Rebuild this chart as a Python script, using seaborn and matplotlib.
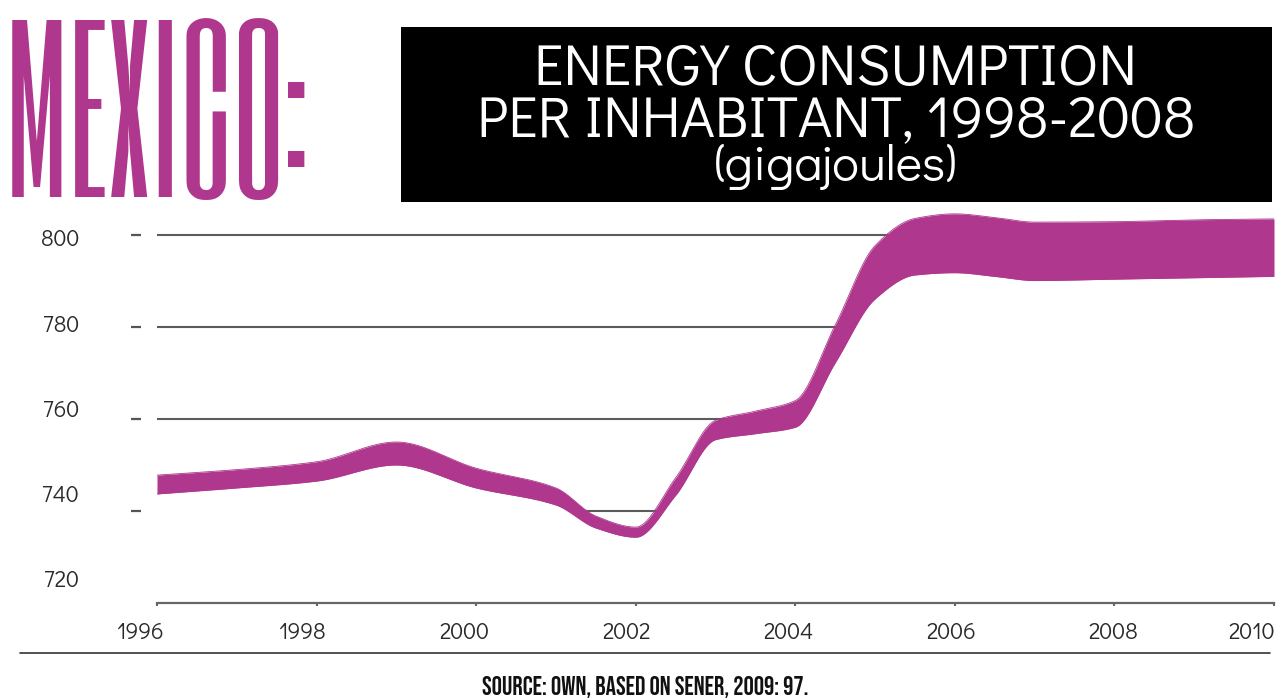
import numpy as np
import pandas as pd
import matplotlib
matplotlib.use("Agg")
import matplotlib.pyplot as plt
import seaborn as sns
from matplotlib.lines import Line2D
from matplotlib.patches import Rectangle

# Energy consumption per inhabitant (gigajoules): lower and upper edge of the band
years = [1996, 1997, 1998, 1999, 2000, 2001, 2001.5, 2002, 2002.5, 2003, 2003.5,
         2004, 2004.5, 2005, 2005.5, 2006, 2006.5, 2007, 2008, 2009, 2010]
upper = [747.8, 749.0, 750.7, 755.0, 749.3, 745.0, 738.9, 736.5, 747.2, 759.7, 761.7,
         764.0, 780.4, 797.7, 803.6, 804.6, 803.8, 802.8, 802.9, 803.3, 803.5]
lower = [743.7, 745.0, 746.5, 750.0, 745.0, 741.3, 736.3, 734.3, 743.4, 755.5, 756.8,
         758.2, 772.2, 786.1, 791.3, 791.8, 791.0, 790.1, 790.4, 790.7, 791.0]

grid_values = [740, 760, 780, 800]
ytick_values = [720, 740, 760, 780, 800]
xtick_years = [1996, 1998, 2000, 2002, 2004, 2006, 2008, 2010]

MAGENTA = "#AF378E"


def pchip(x, y, xs):
    """Monotone cubic Hermite curve through (x, y), evaluated at xs."""
    x = np.asarray(x, float)
    y = np.asarray(y, float)
    h = np.diff(x)
    d = np.diff(y) / h
    n = len(x)
    m = np.zeros(n)
    for k in range(1, n - 1):
        if d[k - 1] * d[k] <= 0:
            m[k] = 0.0
        else:
            w1 = 2 * h[k] + h[k - 1]
            w2 = h[k] + 2 * h[k - 1]
            m[k] = (w1 + w2) / (w1 / d[k - 1] + w2 / d[k])
    m[0] = d[0]
    m[-1] = d[-1]
    idx = np.clip(np.searchsorted(x, xs) - 1, 0, n - 2)
    t = (xs - x[idx]) / h[idx]
    h00 = 2 * t**3 - 3 * t**2 + 1
    h10 = t**3 - 2 * t**2 + t
    h01 = -2 * t**3 + 3 * t**2
    h11 = t**3 - t**2
    return (h00 * y[idx] + h10 * h[idx] * m[idx]
            + h01 * y[idx + 1] + h11 * h[idx] * m[idx + 1])


sns.set_theme(style="white")
plt.rcParams["font.family"] = ["Didact Gothic", "DejaVu Sans"]

W, H = 1276, 699
fig = plt.figure(figsize=(W / 100, H / 100), dpi=100)
rect = [157 / W, 96 / H, 1117 / W, 391 / H]
ax = fig.add_axes(rect)

xs = np.linspace(1996, 2010, 1400)
band = pd.DataFrame({"year": xs,
                     "upper": pchip(years, upper, xs),
                     "lower": pchip(years, lower, xs)})

# horizontal guides only where they run above the band's lower edge
for v in grid_values:
    guide = np.where(v > band["lower"], v, np.nan)
    ax.plot(band["year"], guide, color="#5c5c5c", lw=1.5, zorder=1,
            solid_capstyle="butt")

ax.fill_between(band["year"], band["lower"], band["upper"], color=MAGENTA, lw=0, zorder=3)
sns.lineplot(data=band, x="year", y="upper", ax=ax, color=MAGENTA, lw=0.6, zorder=3)
sns.lineplot(data=band, x="year", y="lower", ax=ax, color=MAGENTA, lw=0.6, zorder=3)
ax.set_xlabel("")
ax.set_ylabel("")

sns.despine(ax=ax, top=True, right=True, left=False, bottom=False)
ax.spines["left"].set_position(("outward", 11.5))
ax.spines["left"].set_visible(False)
ax.spines["bottom"].set_color("#666666")
ax.spines["bottom"].set_linewidth(1.6)
ax.spines["bottom"].set_zorder(4)

ax.set_yticks(grid_values)
ax.set_xticks(xtick_years)
ax.set_xlim(1996, 2010)
ax.set_ylim(720, 805)
ax.tick_params(axis="y", left=True, length=7.2, width=1.6, color="#555555",
               direction="out", labelleft=False)
ax.tick_params(axis="x", bottom=True, length=2.5, width=1.5, color="#666666",
               direction="out", labelbottom=False)
ax.grid(False)

# tick labels sit on their own slightly stretched scale
lab = fig.add_axes([100 / W, 96 / H, 1176 / W, 391 / H])
lab.patch.set_alpha(0)
for s in lab.spines.values():
    s.set_visible(False)
lab.grid(False)
lab.set_yticks(ytick_values)
lab.set_yticklabels([str(v) for v in ytick_values])
lab.set_xticks(xtick_years)
lab.set_xticklabels([str(v) for v in xtick_years])
lab.set_ylim(714.37, 806.1)
lab.set_xlim(1995.507, 2010.01)
lab.tick_params(axis="y", left=True, length=0, pad=15, labelsize=16.5,
                labelcolor="#2a2a2a")
lab.tick_params(axis="x", bottom=True, length=0, pad=14, labelsize=16.5,
                labelcolor="#2a2a2a")
lab.get_xticklabels()[-1].set_ha("right")

# header
fig.text(4 / W, (H - 197) / H, "MEXICO:", fontsize=151,
         family=["Six Caps", "League Gothic", "DejaVu Sans"], color=MAGENTA,
         ha="left", va="baseline")

fig.add_artist(Rectangle((401 / W, (H - 202) / H), 871 / W, 175 / H,
                         transform=fig.transFigure, facecolor="black",
                         edgecolor="none"))
cx = 836 / W
fig.text(cx, (H - 85) / H, "ENERGY CONSUMPTION", fontsize=42, color="white",
         ha="center", va="baseline")
fig.text(cx, (H - 136) / H, "PER INHABITANT, 1998-2008", fontsize=42,
         color="white", ha="center", va="baseline")
fig.text(cx, (H - 180) / H, "(gigajoules)", fontsize=36, color="white",
         ha="center", va="baseline")

# footer
fig.add_artist(Line2D([20 / W, 1270 / W], [(H - 653) / H] * 2,
                      transform=fig.transFigure, color="#333333", lw=1.2))
fig.text(645 / W, (H - 695) / H, "SOURCE: OWN, BASED ON SENER, 2009: 97.",
         fontsize=18.5, family=["Bebas Neue", "League Gothic", "DejaVu Sans"],
         color="#111111", ha="center", va="baseline")

fig.savefig("out.png", dpi=100, facecolor="white")
